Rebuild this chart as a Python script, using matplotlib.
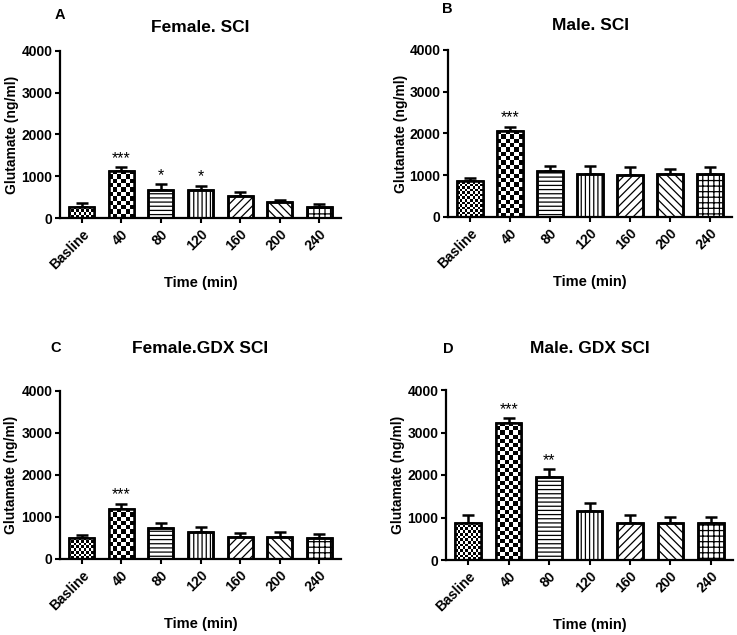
import numpy as np
import matplotlib
matplotlib.use("Agg")
import matplotlib.pyplot as plt

plt.rcParams["font.family"] = ["Liberation Sans", "DejaVu Sans"]
plt.rcParams["font.weight"] = "bold"
plt.rcParams["hatch.linewidth"] = 0.9

# ---- data ----
categories = ["Basline", "40", "80", "120", "160", "200", "240"]

female_sci_mean = [270, 1135, 670, 660, 535, 380, 275]
female_sci_sem = [95, 80, 135, 115, 85, 50, 65]
female_sci_sig = ["", "***", "*", "*", "", "", ""]

male_sci_mean = [860, 2060, 1090, 1030, 1010, 1020, 1020]
male_sci_sem = [70, 100, 130, 180, 180, 130, 175]
male_sci_sig = ["", "***", "", "", "", "", ""]

female_gdx_mean = [510, 1200, 750, 650, 515, 515, 510]
female_gdx_sem = [55, 110, 110, 110, 105, 120, 95]
female_gdx_sig = ["", "***", "", "", "", "", ""]

male_gdx_mean = [880, 3230, 1950, 1150, 875, 860, 860]
male_gdx_sem = [190, 100, 190, 180, 175, 160, 160]
male_gdx_sig = ["", "***", "**", "", "", "", ""]

# per-bar fill style: checker cell size in px, or a hatch string
styles = [("checker", 2.6), ("checker", 4.2), ("hatch", "----"), ("hatch", "||||"),
          ("hatch", "////"), ("hatch", "\\\\\\\\"), ("hatch", "+++")]


def add_checker(ax, bar, cell_px):
    x0, y0 = bar.get_x(), bar.get_y()
    w, h = bar.get_width(), bar.get_height()
    p0 = ax.transData.transform((x0, y0))
    p1 = ax.transData.transform((x0 + w, y0 + h))
    ncol = max(1, int(round((p1[0] - p0[0]) / cell_px)))
    nrow = max(1, int(round((p1[1] - p0[1]) / cell_px)))
    pattern = np.add.outer(np.arange(nrow), np.arange(ncol)) % 2
    im = ax.imshow(pattern, cmap="gray_r", vmin=0, vmax=1, origin="lower",
                   extent=(x0, x0 + w, y0, y0 + h), aspect="auto",
                   interpolation="nearest", zorder=2.5)
    im.set_clip_path(bar)


def panel(rect, means, sems, sig, title, letter, letter_pos, title_y, ylabel_x):
    ax = fig.add_axes(rect)
    x = np.arange(len(categories))
    xlim = (-0.55, len(categories) - 0.45)
    ax.set_xlim(*xlim)
    ax.set_ylim(0, 4000)

    ax.errorbar(x, means, yerr=[np.zeros(len(sems)), sems], fmt="none",
                ecolor="black", elinewidth=1.8, capsize=4.5, capthick=1.8, zorder=1)
    bars = ax.bar(x, means, width=0.63, color="white", edgecolor="black",
                  linewidth=1.8, zorder=2)
    for b, (kind, val) in zip(bars, styles):
        if kind == "hatch":
            b.set_hatch(val)
        else:
            add_checker(ax, b, val)
    ax.bar(x, means, width=0.63, fill=False, edgecolor="black", linewidth=1.8, zorder=3)
    ax.set_xlim(*xlim)
    ax.set_ylim(0, 4000)

    for xi, m, s, t in zip(x, means, sems, sig):
        if t:
            ax.annotate(t, (xi, m + s), xytext=(0, 1), textcoords="offset points",
                        ha="center", va="bottom", fontsize=11.5, fontweight="normal")

    ax.set_yticks([0, 1000, 2000, 3000, 4000])
    ax.set_xticks(x)
    ax.set_xticklabels(categories, rotation=45, ha="right", rotation_mode="anchor",
                       fontsize=10, fontweight="bold")
    ax.tick_params(axis="y", labelsize=10, width=1.5, length=3.5, pad=2, direction="out")
    ax.tick_params(axis="x", width=1.5, length=3.5, direction="out", pad=3)
    for sp in ["top", "right"]:
        ax.spines[sp].set_visible(False)
    for sp in ["left", "bottom"]:
        ax.spines[sp].set_linewidth(1.6)
    ax.set_xlabel("Time (min)", fontsize=10.5, fontweight="bold", labelpad=3)

    cx = rect[0] + rect[2] / 2
    fig.text(cx, title_y, title, ha="center", va="center", fontsize=12.5, fontweight="bold")
    fig.text(letter_pos[0], letter_pos[1], letter, ha="center", va="center",
             fontsize=10.5, fontweight="bold")
    fig.text(ylabel_x, rect[1] + rect[3] / 2, "Glutamate (ng/ml)", rotation=90,
             ha="center", va="center", fontsize=10, fontweight="bold")
    return ax


W, H = 737, 635
fig = plt.figure(figsize=(W / 100, H / 100), dpi=100)


def r(x0, x1, ytop, ybot):
    return [x0 / W, 1 - ybot / H, (x1 - x0) / W, (ybot - ytop) / H]


panel(r(60, 341, 51, 218), female_sci_mean, female_sci_sem, female_sci_sig,
      "Female. SCI", "A", (60 / W, 1 - 15 / H), 1 - 27 / H, 12 / W)
panel(r(448, 732, 50, 217), male_sci_mean, male_sci_sem, male_sci_sig,
      "Male. SCI", "B", (447 / W, 1 - 9 / H), 1 - 25 / H, 401 / W)
panel(r(60, 341, 391, 559), female_gdx_mean, female_gdx_sem, female_gdx_sig,
      "Female.GDX SCI", "C", (56 / W, 1 - 348 / H), 1 - 348 / H, 11 / W)
panel(r(446, 733, 390, 560), male_gdx_mean, male_gdx_sem, male_gdx_sig,
      "Male. GDX SCI", "D", (448 / W, 1 - 349 / H), 1 - 348 / H, 398 / W)

fig.savefig("out.png", dpi=100)
